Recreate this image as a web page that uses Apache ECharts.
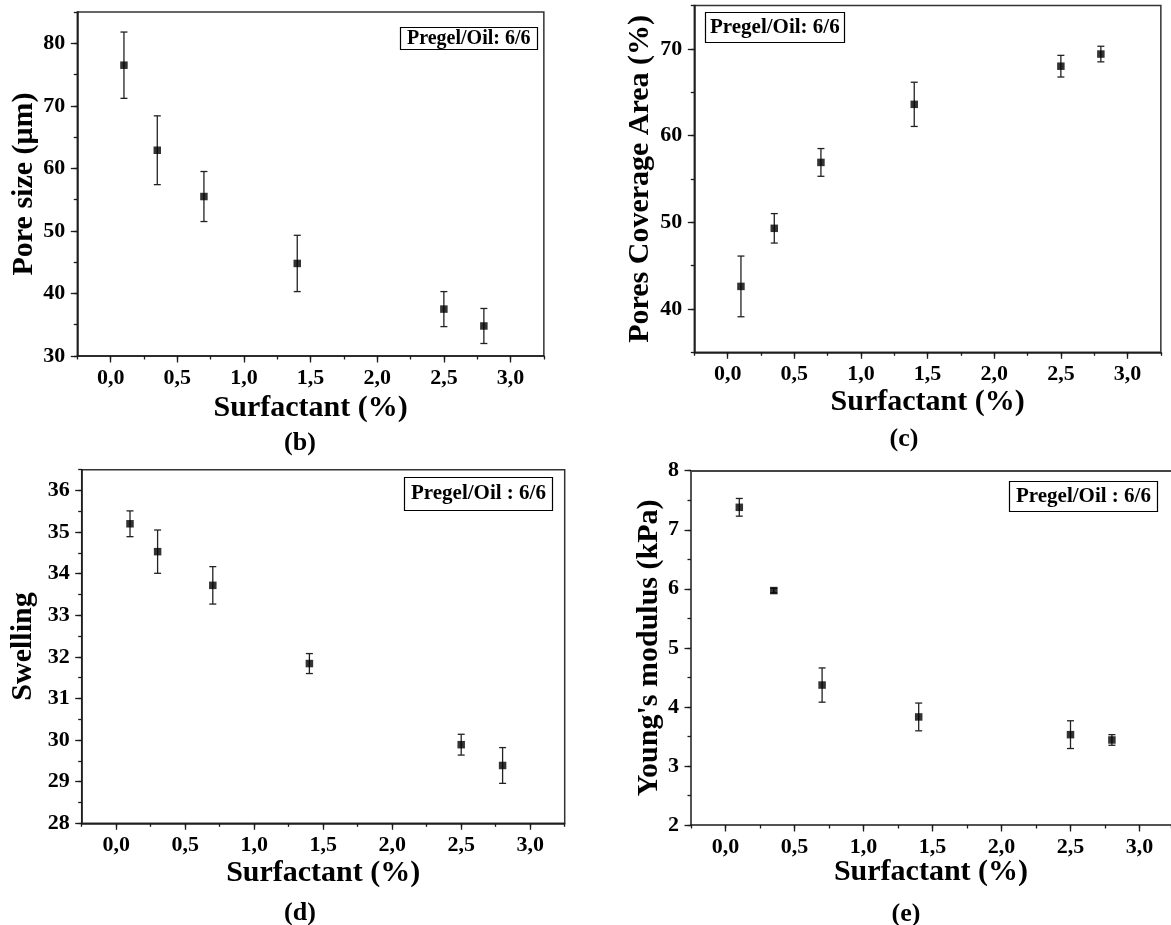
<!DOCTYPE html>
<html><head><meta charset="utf-8">
<script src="https://cdn.jsdelivr.net/npm/echarts@6/dist/echarts.min.js"></script>
<style>html,body{margin:0;padding:0;background:#fff}#c{width:1171px;height:925px}</style>
</head><body><div id="c"></div>
<script>
// ---- data ----
const surfactant = [0.1, 0.35, 0.7, 1.4, 2.5, 2.8];
const surfactantSwelling = [0.1, 0.3, 0.7, 1.4, 2.5, 2.8];
const poreSize = [76.5, 62.9, 55.5, 44.8, 37.5, 34.8];
const poreSizeErr = [5.3, 5.5, 4.0, 4.5, 2.8, 2.8];
const coverage = [42.6, 49.3, 56.9, 63.6, 68.0, 69.4];
const coverageErr = [3.5, 1.7, 1.6, 2.55, 1.25, 0.9];
const swelling = [35.2, 34.53, 33.72, 31.84, 29.89, 29.39];
const swellingErr = [0.31, 0.52, 0.45, 0.24, 0.25, 0.43];
const modulus = [7.38, 5.97, 4.37, 3.83, 3.53, 3.44];
const modulusErr = [0.15, 0.04, 0.29, 0.235, 0.235, 0.09];
const xTickLabels = {'0': '0,0', '0.5': '0,5', '1': '1,0', '1.5': '1,5', '2': '2,0', '2.5': '2,5', '3': '3,0'};

// ---- layout ----
const FONT = '"Liberation Serif","Times New Roman",serif';
const panels = [
  {x: surfactant, y: poreSize, e: poreSizeErr, yName: 'Pore size (μm)', cap: '(b)', box: 'Pregel/Oil: 6/6',
   left: 77.3, bottom: 356, ux: 133.3, uy: 6.254, ymin: 30, ymax: 85, majMin: 30, majMax: 80, maj: 10, minr: 5,
   xExt: 3.5, frame: true, yGap: 38, xGap: 37, capX: 300, capY: 443, boxL: 400, boxT: 28, boxFont: 20, boxPad: [1, 7], boxLH: 19},
  {x: surfactant, y: coverage, e: coverageErr, yName: 'Pores Coverage Area (%)', cap: '(c)', box: 'Pregel/Oil: 6/6',
   left: 694.3, bottom: 352.3, ux: 133.3, uy: 8.67, ymin: 35, ymax: 75, majMin: 40, majMax: 70, maj: 10, minr: 5,
   xExt: 3.5, frame: true, yGap: 39, xGap: 35, capX: 904, capY: 439, boxL: 705, boxT: 12, boxFont: 21, boxPad: [5, 5], boxLH: 21},
  {x: surfactantSwelling, y: swelling, e: swellingErr, yName: 'Swelling', cap: '(d)', box: 'Pregel/Oil : 6/6',
   left: 81.7, bottom: 823.3, ux: 138, uy: 41.6, ymin: 28, ymax: 36.5, majMin: 28, majMax: 36, maj: 1, minr: 0.5,
   xExt: 3.5, frame: true, yGap: 43, xGap: 35, capX: 300, capY: 913, boxL: 404, boxT: 477, boxFont: 21, boxPad: [6, 7], boxLH: 22},
  {x: surfactant, y: modulus, e: modulusErr, yName: "Young's modulus (kPa)", cap: '(e)', box: 'Pregel/Oil : 6/6',
   left: 691, bottom: 825, ux: 138, uy: 59.05, ymin: 2, ymax: 8, majMin: 2, majMax: 8, maj: 1, minr: 0.5,
   xExt: 480 / 138, frame: false, yGap: 27, xGap: 32, capX: 906, capY: 914, boxL: 1009, boxT: 481, boxFont: 21, boxPad: [5, 7], boxLH: 21}
];

const AX = '#1a1a1a';
const grid = [], xAxis = [], yAxis = [], series = [], title = [], graphic = [];
const labelStyle = {fontSize: 22, fontWeight: 'bold', fontFamily: FONT, color: '#000'};
const nameStyle = {fontSize: 30, fontWeight: 'bold', fontFamily: FONT, color: '#000'};

panels.forEach((p, i) => {
  const g1 = grid.length;
  grid.push({left: p.left, top: p.bottom - (p.ymax - p.ymin) * p.uy, width: p.xExt * p.ux,
             height: (p.ymax - p.ymin) * p.uy, show: p.frame, borderColor: '#333', borderWidth: 1.5,
             backgroundColor: 'transparent'});
  grid.push({left: p.left + 0.25 * p.ux, top: p.bottom - (p.majMax - p.ymin) * p.uy, width: 3 * p.ux,
             height: (p.majMax - p.majMin) * p.uy, show: false});
  const g2 = g1 + 1;
  const xmax = -0.25 + p.xExt;
  xAxis.push({gridIndex: g1, type: 'value', min: -0.25, max: xmax, interval: 0.25,
    axisLine: {show: true, onZero: false, lineStyle: {color: AX, width: 1.5}},
    axisTick: {show: true, length: 3.5, lineStyle: {color: AX, width: 1.3}},
    axisLabel: {show: false}, splitLine: {show: false},
    name: 'Surfactant (%)', nameLocation: 'middle', nameGap: p.xGap, nameTextStyle: nameStyle});
  yAxis.push({gridIndex: g1, type: 'value', min: p.ymin, max: p.ymax, interval: p.minr,
    axisLine: {show: true, onZero: false, lineStyle: {color: AX, width: 1.5}},
    axisTick: {show: true, length: 3.5, lineStyle: {color: AX, width: 1.3}},
    axisLabel: {show: false}, splitLine: {show: false},
    name: p.yName, nameLocation: 'middle', nameGap: p.yGap, nameTextStyle: nameStyle});
  xAxis.push({gridIndex: g2, type: 'value', min: 0, max: 3, interval: 0.5,
    offset: (p.majMin - p.ymin) * p.uy,
    axisLine: {show: false, onZero: false},
    axisTick: {show: true, length: 6.5, lineStyle: {color: AX, width: 1.3}},
    axisLabel: Object.assign({margin: 11, formatter: v => xTickLabels[String(v)] || ''}, labelStyle),
    splitLine: {show: false}});
  yAxis.push({gridIndex: g2, type: 'value', min: p.majMin, max: p.majMax, interval: p.maj,
    offset: 0.25 * p.ux,
    axisLine: {show: false, onZero: false},
    axisTick: {show: true, length: 6.5, lineStyle: {color: AX, width: 1.3}},
    axisLabel: Object.assign({margin: 12}, labelStyle),
    splitLine: {show: false}});
  if (!p.frame) {
    // top frame line only (right side is cut off by the figure edge)
    xAxis.push({gridIndex: g1, type: 'value', position: 'top', min: -0.25, max: xmax,
      axisLine: {show: true, onZero: false, lineStyle: {color: '#444', width: 2}},
      axisTick: {show: false}, axisLabel: {show: false}, splitLine: {show: false}});
  }

  const pts = p.x.map((x, k) => [x, p.y[k]]);
  const errs = p.x.map((x, k) => [x, p.y[k] - p.e[k], p.y[k] + p.e[k]]);
  series.push({type: 'custom', xAxisIndex: g1, yAxisIndex: g1, data: errs, z: 2,
    renderItem: (params, api) => {
      const top = api.coord([api.value(0), api.value(2)]);
      const bot = api.coord([api.value(0), api.value(1)]);
      const w = 3.5, st = {stroke: '#222', lineWidth: 1.3};
      return {type: 'group', children: [
        {type: 'line', shape: {x1: top[0], y1: top[1], x2: bot[0], y2: bot[1]}, style: st},
        {type: 'line', shape: {x1: top[0] - w, y1: top[1], x2: top[0] + w, y2: top[1]}, style: st},
        {type: 'line', shape: {x1: bot[0] - w, y1: bot[1], x2: bot[0] + w, y2: bot[1]}, style: st}
      ]};
    }});
  series.push({type: 'scatter', xAxisIndex: g1, yAxisIndex: g1, data: pts, symbol: 'rect',
    symbolSize: 7.5, itemStyle: {color: '#000'}, z: 3});

  title.push({text: p.box, left: p.boxL, top: p.boxT, padding: p.boxPad, borderColor: '#000', borderWidth: 1.2,
    textStyle: {fontSize: p.boxFont, fontWeight: 'bold', fontFamily: FONT, color: '#000', lineHeight: p.boxLH}});
  graphic.push({type: 'text', x: p.capX, y: p.capY,
    style: {text: p.cap, align: 'center', verticalAlign: 'middle', fontSize: 26, fontWeight: 'bold',
            fontFamily: FONT, fill: '#000'}});
});

const chart = echarts.init(document.getElementById('c'), null, {renderer: 'canvas'});
chart.setOption({animation: false, backgroundColor: '#fff', grid, xAxis, yAxis, series, title, graphic});
</script></body></html>
